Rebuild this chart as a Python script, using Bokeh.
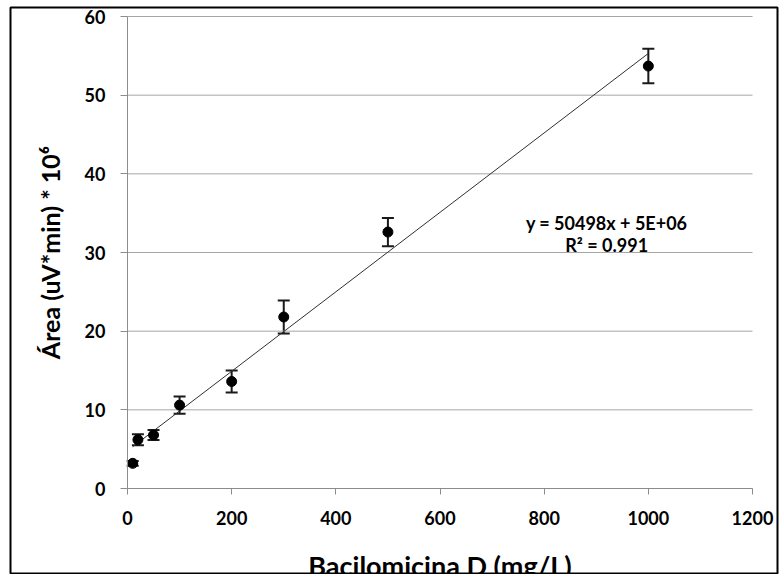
import numpy as np
from bokeh.plotting import figure
from bokeh.models import (ColumnDataSource, Whisker, TeeHead, Label, Range1d, FixedTicker)
from bokeh.embed import file_html
from bokeh.resources import INLINE

# ---- data ----
conc = [10, 20, 50, 100, 200, 300, 500, 1000]          # Bacilomicina D (mg/L)
area = [3.2, 6.2, 6.8, 10.6, 13.6, 21.8, 32.6, 53.7]    # Área (uV*min) * 10^6
err = [0.3, 0.7, 0.65, 1.1, 1.4, 2.1, 1.8, 2.2]
x_ticks = [0, 200, 400, 600, 800, 1000, 1200]
y_ticks = [0, 10, 20, 30, 40, 50, 60]
eq_text = "y = 50498x + 5E+06"
r2_text = "R\u00b2 = 0.991"
x_title = "Bacilomicina D (mg/L)"
y_title = "\u00c1rea (uV*min) * 10\u2076"

FONT = "Lato"

# ---- layout geometry (pixels) ----
W, H = 779, 574
BOX_L, BOX_R, BOX_T, BOX_B = 10, 777, 7, 573          # outer black frame
AX_L, AX_R, AX_T, AX_B = 127, 752, 16, 488            # plot area (x 0..1200, y 0..60)
x_lo, x_hi = x_ticks[0], x_ticks[-1]
y_lo, y_hi = y_ticks[0], y_ticks[-1]
sx = (AX_R - AX_L) / (x_hi - x_lo)
sy = (AX_B - AX_T) / (y_hi - y_lo)
x_range = Range1d(x_lo - (AX_L - BOX_L) / sx, x_hi + (BOX_R - AX_R) / sx)
y_range = Range1d(y_lo - (BOX_B - AX_B) / sy, y_hi + (AX_T - BOX_T) / sy)

src = ColumnDataSource(dict(
    x=conc, y=area,
    upper=[a + e for a, e in zip(area, err)],
    lower=[a - e for a, e in zip(area, err)],
))

p = figure(width=W, height=H, x_range=x_range, y_range=y_range,
           output_backend="svg", toolbar_location=None,
           min_border_left=BOX_L, min_border_right=W - BOX_R,
           min_border_top=BOX_T, min_border_bottom=H - BOX_B)
p.outline_line_color = "black"
p.outline_line_width = 2
p.background_fill_color = "white"
p.border_fill_color = "white"
p.xgrid.visible = False
p.ygrid.visible = False

# horizontal gridlines at the y ticks, across the plot area only
n = len(y_ticks)
p.segment(x0=[x_lo] * n, x1=[x_hi] * n, y0=y_ticks, y1=y_ticks,
          line_color="#a6a6a6", line_width=1)

# axes, anchored at the origin inside the frame
for ax in (p.xaxis[0], p.yaxis[0]):
    ax.fixed_location = 0
    ax.axis_line_color = "#8c8c8c"
    ax.major_tick_line_color = "#8c8c8c"
    ax.minor_tick_line_color = None
    ax.major_tick_in = 0
    ax.major_label_text_font = FONT
    ax.major_label_text_font_style = "bold"
    ax.major_label_text_font_size = "18px"
    ax.major_label_text_color = "black"
    ax.axis_label_text_font = FONT
    ax.axis_label_text_font_style = "bold"
    ax.axis_label_text_color = "black"

p.xaxis.bounds = (x_lo, x_hi)
p.yaxis.bounds = (y_lo, y_hi)
p.xaxis.ticker = FixedTicker(ticks=x_ticks)
p.yaxis.ticker = FixedTicker(ticks=y_ticks)
p.xaxis.major_tick_out = 6
p.yaxis.major_tick_out = 7
p.xaxis.major_label_standoff = 16
p.yaxis.major_label_standoff = 15
p.xaxis.axis_label = x_title
p.xaxis.axis_label_text_font_size = "27px"
p.xaxis.axis_label_standoff = 21
p.yaxis.axis_label = y_title
p.yaxis.axis_label_text_font_size = "25px"
p.yaxis.axis_label_standoff = 17

# trendline (least squares fit of the data)
slope, intercept = np.polyfit(conc, area, 1)
xs = [min(conc), max(conc)]
ys = [slope * v + intercept for v in xs]
p.line(xs, ys, line_color="#303030", line_width=1)

# error bars
w = Whisker(source=src, base="x", upper="upper", lower="lower", dimension="height",
            line_color="#1a1a1a", line_width=2)
w.upper_head = TeeHead(size=12, line_color="#1a1a1a", line_width=2)
w.lower_head = TeeHead(size=12, line_color="#1a1a1a", line_width=2)
p.add_layout(w)

p.scatter("x", "y", source=src, size=10, color="black")

# equation labels
p.add_layout(Label(x=920, y=33.7, text=eq_text, text_align="center", text_baseline="middle",
                   text_font=FONT, text_font_style="bold", text_font_size="18px",
                   text_color="black"))
p.add_layout(Label(x=920, y=30.9, text=r2_text, text_align="center", text_baseline="middle",
                   text_font=FONT, text_font_style="bold", text_font_size="18px",
                   text_color="black"))

open("out.html", "w").write(file_html(p, INLINE))
